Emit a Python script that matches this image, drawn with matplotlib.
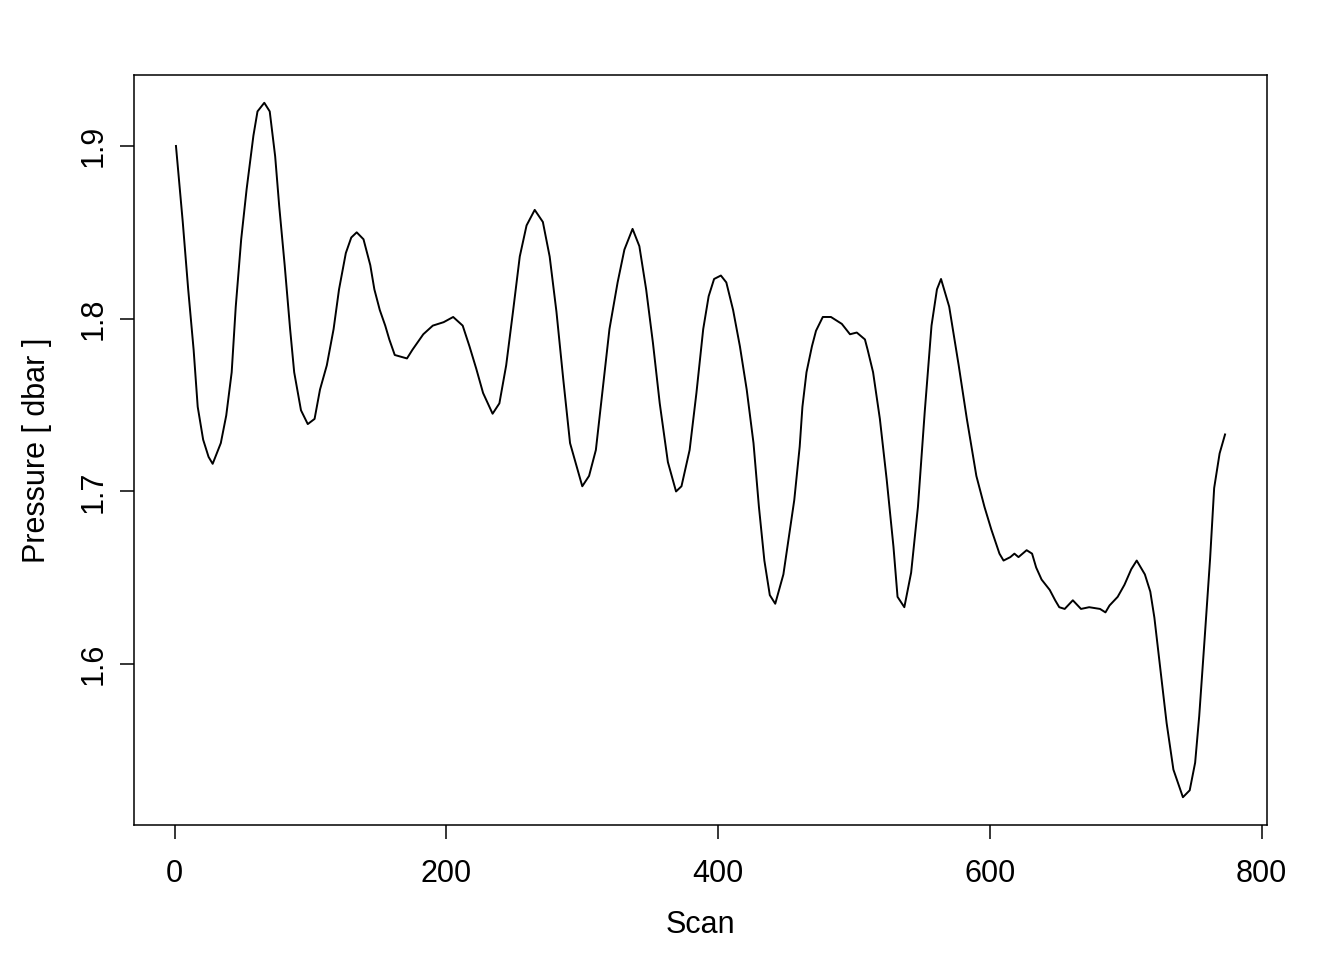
import matplotlib
matplotlib.use("Agg")
import matplotlib.pyplot as plt

plt.rcParams["font.family"] = ["Liberation Sans", "DejaVu Sans"]

# values
scan = [1, 6, 10, 14, 17, 21, 25, 28, 34, 38, 42, 45, 49, 53, 58, 61, 66, 70,
        74, 77, 81, 85, 88, 93, 98, 103, 107, 112, 117, 121, 126, 130, 134, 139,
        144, 147, 151, 155, 158, 162, 171, 175, 183, 190, 198, 205, 212, 217,
        222, 227, 234, 239, 244, 249, 254, 259, 265, 271, 276, 281, 286, 291,
        300, 305, 310, 315, 320, 326, 331, 337, 342, 347, 352, 357, 363, 369,
        373, 379, 384, 389, 393, 397, 402, 406, 411, 416, 421, 426, 430, 434,
        438, 442, 448, 456, 460, 462, 465, 469, 472, 477, 483, 491, 497, 502,
        508, 510, 514, 519, 524, 529, 532, 537, 542, 547, 552, 557, 561, 564,
        570, 577, 583, 590, 596, 601, 607, 610, 615, 618, 621, 627, 631, 634,
        638, 644, 648, 651, 655, 661, 667, 673, 681, 685, 688, 694, 699, 704,
        708, 714, 718, 721, 725, 730, 735, 742, 747, 751, 754, 758, 762, 765,
        769, 773]
pressure = [1.900, 1.856, 1.817, 1.782, 1.749, 1.730, 1.720, 1.716, 1.728,
            1.744, 1.769, 1.807, 1.846, 1.875, 1.906, 1.920, 1.925, 1.920,
            1.894, 1.865, 1.831, 1.794, 1.769, 1.747, 1.739, 1.742, 1.759,
            1.773, 1.794, 1.817, 1.838, 1.847, 1.850, 1.846, 1.831, 1.817,
            1.805, 1.796, 1.788, 1.779, 1.777, 1.782, 1.791, 1.796, 1.798,
            1.801, 1.796, 1.784, 1.771, 1.757, 1.745, 1.751, 1.773, 1.804,
            1.836, 1.854, 1.863, 1.856, 1.836, 1.804, 1.765, 1.728, 1.703,
            1.709, 1.724, 1.759, 1.794, 1.821, 1.840, 1.852, 1.842, 1.817,
            1.786, 1.751, 1.717, 1.700, 1.703, 1.724, 1.757, 1.794, 1.813,
            1.823, 1.825, 1.821, 1.805, 1.784, 1.759, 1.728, 1.691, 1.660,
            1.640, 1.635, 1.652, 1.695, 1.726, 1.749, 1.769, 1.784, 1.793,
            1.801, 1.801, 1.797, 1.791, 1.792, 1.788, 1.782, 1.769, 1.742,
            1.707, 1.668, 1.639, 1.633, 1.653, 1.691, 1.746, 1.796, 1.817,
            1.823, 1.807, 1.773, 1.742, 1.709, 1.691, 1.678, 1.664, 1.660,
            1.662, 1.664, 1.662, 1.666, 1.664, 1.656, 1.649, 1.643, 1.637,
            1.633, 1.632, 1.637, 1.632, 1.633, 1.632, 1.630, 1.634, 1.639,
            1.646, 1.655, 1.660, 1.652, 1.642, 1.627, 1.600, 1.566, 1.539,
            1.523, 1.527, 1.543, 1.570, 1.615, 1.661, 1.702, 1.722, 1.733]

x_ticks = [0, 200, 400, 600, 800]
y_ticks = [1.6, 1.7, 1.8, 1.9]

fig = plt.figure(figsize=(13.44, 9.6), dpi=100)
ax = fig.add_axes([134 / 1344, 135 / 960, 1133 / 1344, 750 / 960])

ax.plot(scan, pressure, color="black", linewidth=1.4)

pad_x = 0.04 * (max(scan) - min(scan))
pad_y = 0.04 * (max(pressure) - min(pressure))
ax.set_xlim(min(scan) - pad_x, max(scan) + pad_x)
ax.set_ylim(min(pressure) - pad_y, max(pressure) + pad_y)

ax.set_xticks(x_ticks)
ax.set_xticklabels([str(t) for t in x_ticks])
ax.set_yticks(y_ticks)
ax.set_yticklabels([str(t) for t in y_ticks], rotation=90, va="center")

ax.tick_params(direction="out", length=10.4, width=1.1, colors="black",
               labelsize=22)
ax.tick_params(axis="x", pad=14)
ax.tick_params(axis="y", pad=8)
for s in ax.spines.values():
    s.set_linewidth(1.1)
    s.set_color("black")

ax.set_xlabel("Scan", fontsize=22, labelpad=15)
ax.set_ylabel("Pressure [ dbar ]", fontsize=22, labelpad=19)

fig.savefig("out.png", dpi=100)
